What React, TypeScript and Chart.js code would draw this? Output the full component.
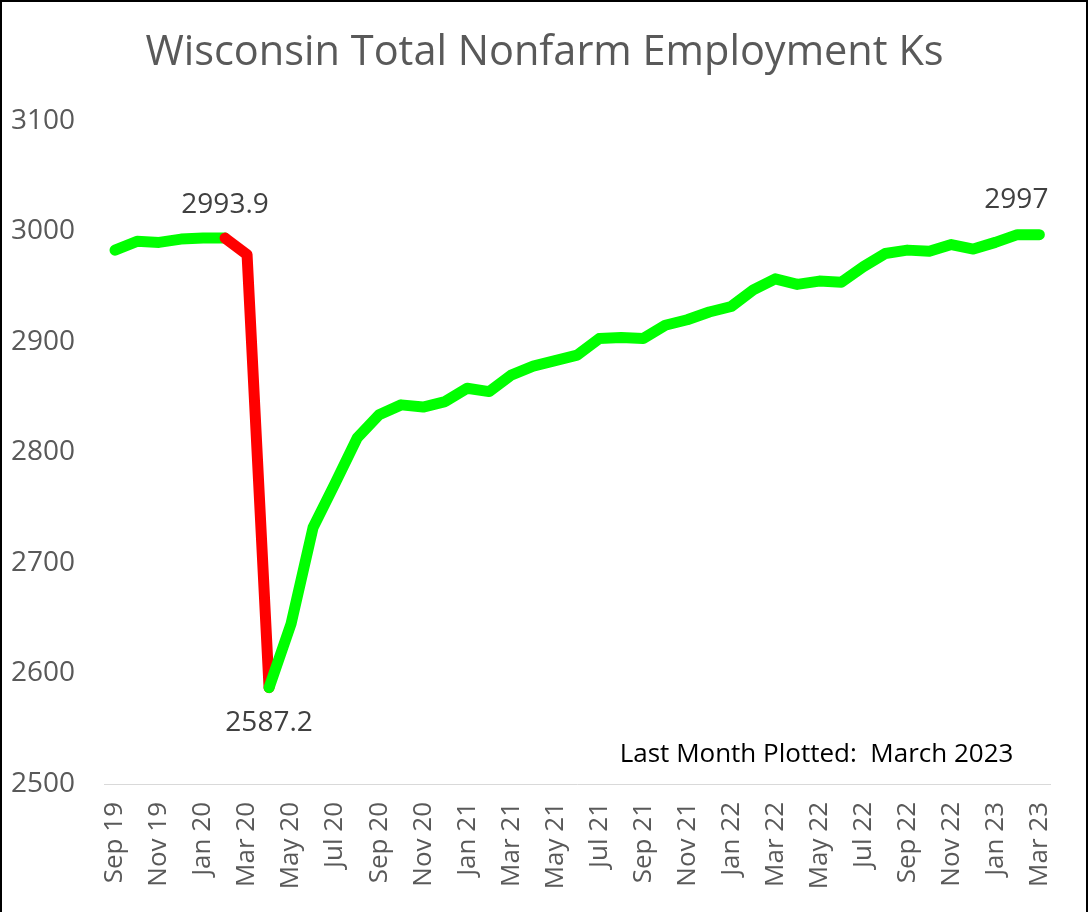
import React, { useEffect, useRef } from "react";
import { Chart, registerables } from "chart.js";

Chart.register(...registerables);

const months: string[] = [
  "Sep 19", "Oct 19", "Nov 19", "Dec 19", "Jan 20", "Feb 20", "Mar 20", "Apr 20",
  "May 20", "Jun 20", "Jul 20", "Aug 20", "Sep 20", "Oct 20", "Nov 20", "Dec 20",
  "Jan 21", "Feb 21", "Mar 21", "Apr 21", "May 21", "Jun 21", "Jul 21", "Aug 21",
  "Sep 21", "Oct 21", "Nov 21", "Dec 21", "Jan 22", "Feb 22", "Mar 22", "Apr 22",
  "May 22", "Jun 22", "Jul 22", "Aug 22", "Sep 22", "Oct 22", "Nov 22", "Dec 22",
  "Jan 23", "Feb 23", "Mar 23",
];

const employment: number[] = [
  2983, 2991, 2990, 2993, 2994, 2993.9, 2979, 2587.2,
  2645, 2732, 2772, 2813, 2834, 2843, 2841, 2846,
  2858, 2855, 2870, 2878, 2883, 2888, 2903, 2904,
  2903, 2915, 2920, 2927, 2932, 2947, 2957, 2952,
  2955, 2954, 2968, 2980, 2983, 2982, 2988, 2984,
  2990, 2997, 2997,
];

// indices of segments (start point) drawn in red
const redSegments: number[] = [5, 6];

// annotated points: index, text
const labelIndex: number[] = [5, 7, 42];
const labelText: string[] = ["2993.9", "2587.2", "2997"];

const yTicks: number[] = [2500, 2600, 2700, 2800, 2900, 3000, 3100];

const titleText = "Wisconsin Total Nonfarm Employment Ks";
const noteText = "Last Month Plotted:  March 2023";

const annotPlugin = {
  id: "annot",
  beforeDraw(chart: any) {
    const ctx = chart.ctx;
    ctx.save();
    ctx.fillStyle = "#ffffff";
    ctx.fillRect(0, 0, chart.width, chart.height);
    ctx.strokeStyle = "#000000";
    ctx.lineWidth = 2;
    ctx.strokeRect(1, 1, chart.width - 3, chart.height + 10);
    ctx.restore();
  },
  afterDatasetsDraw(chart: any) {
    const ctx = chart.ctx;
    const meta = chart.getDatasetMeta(0);
    const offsets: number[][] = [[0, -33], [0, 35], [-23, -35]];
    ctx.save();
    ctx.font = "28px 'Open Sans'";
    ctx.fillStyle = "#404040";
    ctx.textAlign = "center";
    ctx.textBaseline = "middle";
    labelIndex.forEach((idx, k) => {
      const p = meta.data[idx];
      ctx.fillText(labelText[k], p.x + offsets[k][0], p.y + offsets[k][1]);
    });
    const area = chart.chartArea;
    ctx.font = "26px 'Open Sans'";
    ctx.fillStyle = "#000000";
    ctx.textAlign = "right";
    ctx.fillText(noteText, area.right - 37, area.bottom - 29);
    ctx.restore();
  },
};

export default function App() {
  const canvasRef = useRef<HTMLCanvasElement>(null);

  useEffect(() => {
    if (!canvasRef.current) return;
    const chart = new Chart(canvasRef.current, {
      type: "line",
      data: {
        labels: months,
        datasets: [
          {
            data: employment,
            borderColor: "#00FF00",
            borderWidth: 11,
            borderCapStyle: "round",
            borderJoinStyle: "round",
            pointRadius: 0,
            tension: 0,
            segment: {
              borderColor: (c: any) =>
                redSegments.includes(c.p0DataIndex) ? "#FF0000" : undefined,
            },
          },
        ],
      },
      options: {
        animation: false,
        responsive: true,
        maintainAspectRatio: false,
        layout: { padding: { left: 10, right: 10, top: 0, bottom: 0 } },
        plugins: {
          legend: { display: false },
          tooltip: { enabled: false },
          title: {
            display: true,
            text: titleText,
            color: "#595959",
            font: { family: "'Open Sans'", size: 41.5, weight: "normal" },
            padding: { top: 28, bottom: 43 },
          },
        },
        scales: {
          x: {
            offset: true,
            grid: { display: false, drawTicks: false },
            border: { display: true, color: "#d9d9d9", width: 1 },
            ticks: {
              autoSkip: false,
              maxRotation: 90,
              minRotation: 90,
              padding: 18,
              color: "#595959",
              font: { family: "'Open Sans'", size: 26 },
              callback: (_v: any, i: number) => (i % 2 === 0 ? months[i] : ""),
            },
            afterFit: (s: any) => {
              s.height = 128;
            },
          },
          y: {
            min: yTicks[0],
            max: yTicks[yTicks.length - 1],
            afterBuildTicks: (s: any) => {
              s.ticks = yTicks.map((v) => ({ value: v }));
            },
            grid: { display: false, drawTicks: false },
            border: { display: false },
            ticks: {
              padding: 29,
              color: "#595959",
              font: { family: "'Open Sans'", size: 28 },
              callback: (v: any) => String(v),
            },
            afterFit: (s: any) => {
              s.width = 94;
            },
          },
          yRight: {
            position: "right",
            min: yTicks[0],
            max: yTicks[yTicks.length - 1],
            grid: { display: false, drawTicks: false },
            border: { display: false },
            ticks: { display: false },
            afterFit: (s: any) => {
              s.width = 27;
            },
          },
        },
      },
      plugins: [annotPlugin],
    });
    return () => chart.destroy();
  }, []);

  return (
    <div style={{ position: "fixed", left: 0, top: 0, width: 1089, height: 912 }}>
      <canvas ref={canvasRef} />
    </div>
  );
}
